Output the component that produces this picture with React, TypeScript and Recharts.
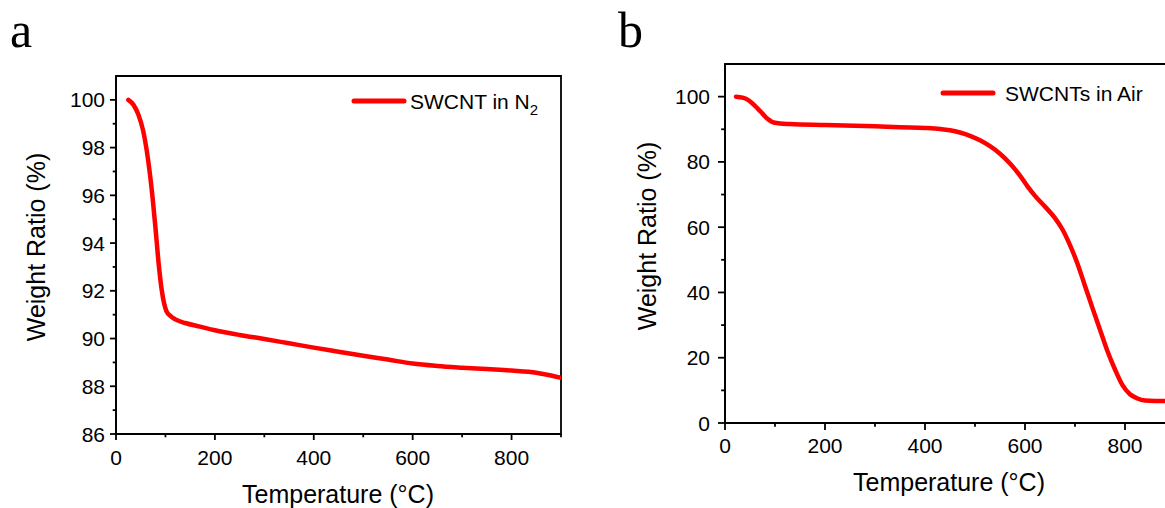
import React from 'react';
import { LineChart, Line, XAxis, YAxis, ReferenceArea, Legend, Label } from 'recharts';

// ---- Panel a: SWCNT in N2 ----
const tempA = [25, 35, 45, 55, 62, 68, 74, 80, 86, 92, 97, 102, 110, 120, 140, 170, 200, 250, 300, 350, 400, 450, 500, 550, 600, 650, 700, 750, 800, 850, 880, 900];
const weightA = [100, 99.8, 99.4, 98.7, 97.9, 97.0, 95.9, 94.6, 93.2, 92.1, 91.5, 91.15, 90.95, 90.8, 90.65, 90.5, 90.35, 90.15, 89.98, 89.8, 89.62, 89.45, 89.28, 89.12, 88.95, 88.85, 88.78, 88.72, 88.66, 88.57, 88.45, 88.35];

// ---- Panel b: SWCNTs in Air ----
const tempB = [22, 35, 45, 55, 65, 75, 85, 95, 110, 130, 200, 300, 350, 400, 430, 450, 470, 490, 510, 530, 550, 570, 590, 605, 620, 640, 660, 675, 690, 705, 720, 735, 750, 765, 780, 795, 810, 825, 840, 860, 900];
const weightB = [100, 99.7, 99.1, 97.9, 96.4, 94.8, 93.2, 92.2, 91.8, 91.6, 91.3, 90.9, 90.6, 90.4, 90.1, 89.7, 89.0, 88.0, 86.6, 84.8, 82.5, 79.5, 75.8, 72.5, 69.6, 66.3, 62.8, 59.3, 54.5, 48.8, 42.0, 35.2, 28.6, 22.0, 16.4, 11.6, 8.8, 7.5, 6.9, 6.75, 6.7];

// ---- Ticks ----
const xTicks = [0, 100, 200, 300, 400, 500, 600, 700, 800, 900];
const yTicksA = [86, 87, 88, 89, 90, 91, 92, 93, 94, 95, 96, 97, 98, 99, 100];
const yTicksB = [0, 10, 20, 30, 40, 50, 60, 70, 80, 90, 100];

const seriesNameA = 'SWCNT in N';
const seriesSubA = '2';
const seriesNameB = 'SWCNTs in Air';
const xTitle = 'Temperature (°C)';
const yTitle = 'Weight Ratio (%)';

const dataA = tempA.map((t, i) => ({ t, w: weightA[i] }));
const dataB = tempB.map((t, i) => ({ t, w: weightB[i] }));

const SANS = '"Liberation Sans", Arial, Helvetica, sans-serif';
const SERIF = '"Liberation Serif", "Times New Roman", serif';
const RED = '#ff0000';
const INK = '#000';
const AXW = 1.8;

function makeXTick(isMajor: (v: number) => boolean, len: number, labelDy: number) {
  return (props: any) => {
    const { x, y, payload } = props;
    const v = payload.value;
    const major = isMajor(v);
    return (
      <g>
        <line x1={x} x2={x} y1={y} y2={y + (major ? len : len * 0.55)} stroke={INK} strokeWidth={AXW} />
        {major && (
          <text x={x} y={y + labelDy} textAnchor="middle" fontSize={21} fontFamily={SANS} fill={INK}>
            {v}
          </text>
        )}
      </g>
    );
  };
}

function makeYTick(isMajor: (v: number) => boolean, len: number, gap: number) {
  return (props: any) => {
    const { x, y, payload } = props;
    const v = payload.value;
    const major = isMajor(v);
    return (
      <g>
        <line x1={x} x2={x - (major ? len : len * 0.55)} y1={y} y2={y} stroke={INK} strokeWidth={AXW} />
        {major && (
          <text x={x - gap} y={y} dy="0.36em" textAnchor="end" fontSize={21} fontFamily={SANS} fill={INK}>
            {v}
          </text>
        )}
      </g>
    );
  };
}

const yTitleAt = (cx: number, cy: number) => () => (
  <text
    x={cx}
    y={cy}
    transform={`rotate(-90 ${cx} ${cy})`}
    textAnchor="middle"
    dy="0.36em"
    fontSize={25}
    fontFamily={SANS}
    fill={INK}
  >
    {yTitle}
  </text>
);

const xTitleAt = (cx: number, baseline: number) => () => (
  <text x={cx} y={baseline} textAnchor="middle" fontSize={25} fontFamily={SANS} fill={INK}>
    {xTitle}
  </text>
);

const legendLine = (len: number, color: string) => (
  <svg width={len + 6} height={10} style={{ display: 'block' }}>
    <line x1={3} y1={5} x2={len + 3} y2={5} stroke={color} strokeWidth={5} strokeLinecap="round" />
  </svg>
);

const legendA = (props: any) => {
  const color = props.payload && props.payload[0] ? props.payload[0].color : RED;
  return (
    <div style={{ display: 'flex', alignItems: 'center', fontFamily: SANS, fontSize: 21, lineHeight: 1, color: INK, whiteSpace: 'nowrap' }}>
      {legendLine(50, color)}
      <span style={{ marginLeft: 3, position: 'relative', top: 1 }}>
        {seriesNameA}
        <span style={{ fontSize: 15, position: 'relative', top: 6 }}>{seriesSubA}</span>
      </span>
    </div>
  );
};

const legendB = (props: any) => {
  const color = props.payload && props.payload[0] ? props.payload[0].color : RED;
  return (
    <div style={{ display: 'flex', alignItems: 'center', fontFamily: SANS, fontSize: 21, lineHeight: 1, color: INK, whiteSpace: 'nowrap' }}>
      {legendLine(50, color)}
      <span style={{ marginLeft: 9, position: 'relative', top: 1 }}>{seriesNameB}</span>
    </div>
  );
};

export default function App() {
  return (
    <div style={{ position: 'absolute', left: 0, top: 0, width: 1165, height: 508, overflow: 'hidden', background: '#fff' }}>
      <svg width={1165} height={60} style={{ position: 'absolute', left: 0, top: 0 }}>
        <text x={10} y={47} fontSize={50} fontFamily={SERIF} fill={INK}>a</text>
        <text x={618} y={47} fontSize={50} fontFamily={SERIF} fill={INK}>b</text>
      </svg>

      <div style={{ position: 'absolute', left: 0, top: 0 }}>
        <LineChart width={600} height={508} data={dataA} margin={{ top: 76, right: 39, bottom: 0, left: 0 }}>
          <ReferenceArea x1={0} x2={900} y1={86} y2={101} fill="none" fillOpacity={0} stroke={INK} strokeWidth={AXW} />
          <XAxis
            dataKey="t"
            type="number"
            domain={[0, 900]}
            ticks={xTicks}
            interval={0}
            height={74}
            tickSize={0}
            tickMargin={0}
            tickLine={false}
            axisLine={{ stroke: INK, strokeWidth: AXW }}
            tick={makeXTick((v) => v % 200 === 0 && v < 900, 6, 31)}
            allowDataOverflow
          >
            <Label content={xTitleAt(338, 503)} />
          </XAxis>
          <YAxis
            type="number"
            domain={[86, 101]}
            ticks={yTicksA}
            interval={0}
            width={116}
            tickSize={0}
            tickMargin={0}
            tickLine={false}
            axisLine={{ stroke: INK, strokeWidth: AXW }}
            tick={makeYTick((v) => v % 2 === 0, 6, 11)}
            allowDataOverflow
          >
            <Label content={yTitleAt(36, 247)} />
          </YAxis>
          <Legend
            verticalAlign="middle"
            align="center"
            layout="horizontal"
            wrapperStyle={{ top: 90, left: 351, width: 'auto', height: 'auto' }}
            content={legendA}
          />
          <Line
            type="monotone"
            dataKey="w"
            name={seriesNameA + seriesSubA}
            stroke={RED}
            strokeWidth={4.5}
            strokeLinecap="round"
            strokeLinejoin="round"
            dot={false}
            activeDot={false}
            isAnimationActive={false}
          />
        </LineChart>
      </div>

      <div style={{ position: 'absolute', left: 600, top: 0 }}>
        <LineChart width={600} height={508} data={dataB} margin={{ top: 64, right: 25, bottom: 0, left: 0 }}>
          <ReferenceArea x1={0} x2={900} y1={0} y2={110} fill="none" fillOpacity={0} stroke={INK} strokeWidth={AXW} />
          <XAxis
            dataKey="t"
            type="number"
            domain={[0, 900]}
            ticks={xTicks}
            interval={0}
            height={85}
            tickSize={0}
            tickMargin={0}
            tickLine={false}
            axisLine={{ stroke: INK, strokeWidth: AXW }}
            tick={makeXTick((v) => v % 200 === 0 && v < 900, 7, 30)}
            allowDataOverflow
          >
            <Label content={xTitleAt(349, 491)} />
          </XAxis>
          <YAxis
            type="number"
            domain={[0, 110]}
            ticks={yTicksB}
            interval={0}
            width={125}
            tickSize={0}
            tickMargin={0}
            tickLine={false}
            axisLine={{ stroke: INK, strokeWidth: AXW }}
            tick={makeYTick((v) => v % 20 === 0, 7, 15)}
            allowDataOverflow
          >
            <Label content={yTitleAt(47, 236)} />
          </YAxis>
          <Legend
            verticalAlign="middle"
            align="center"
            layout="horizontal"
            wrapperStyle={{ top: 82, left: 340, width: 'auto', height: 'auto' }}
            content={legendB}
          />
          <Line
            type="monotone"
            dataKey="w"
            name={seriesNameB}
            stroke={RED}
            strokeWidth={4.5}
            strokeLinecap="round"
            strokeLinejoin="round"
            dot={false}
            activeDot={false}
            isAnimationActive={false}
          />
        </LineChart>
      </div>
    </div>
  );
}
